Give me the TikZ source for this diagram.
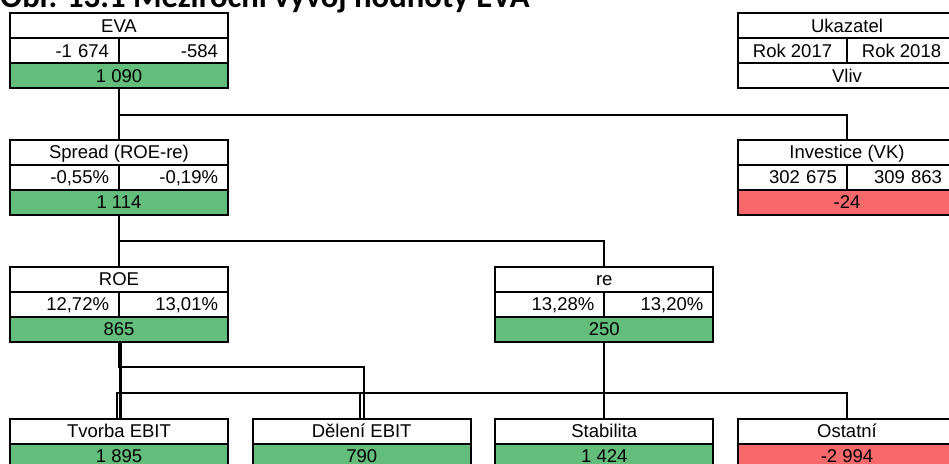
\documentclass[tikz,border=0pt]{standalone}
\usepackage{fontspec}
\setmainfont{Liberation Sans}
\newfontfamily\titlefont{Carlito}
\definecolor{posg}{HTML}{63BE7B}
\definecolor{negr}{HTML}{F8696B}
\begin{document}
\begin{tikzpicture}[x=1pt,y=-1pt,
  cell/.style={draw, line width=2.3pt, inner sep=0pt, outer sep=0pt, minimum height=25pt,
    font=\fontsize{18.5}{22}\selectfont, text height=13.3pt, text depth=0.6pt, anchor=north west},
  hdr/.style={cell, minimum width=218pt},
  numr/.style={cell, minimum width=109pt, text width=89pt, align=right},
  numc/.style={cell, minimum width=109pt},
  valg/.style={hdr, fill=posg},
  valr/.style={hdr, fill=negr},
  conn/.style={line width=2.3pt},
  titl/.style={anchor=base west, inner sep=0pt, font=\titlefont\bfseries\fontsize{32.7}{36}\selectfont}
]
\useasboundingbox (0,0) rectangle (949,463);
\clip (0,0) rectangle (949,463);

\node[titl] (title) at (0,7.5) {Obr. 13.1 Meziroční vývoj hodnoty EVA};

% EVA
\node[hdr] (eva-h) at (10,13.3) {EVA};
\node[numr] (eva-a) at (eva-h.south west) {-1 674};
\node[numr] (eva-b) at (eva-a.north east) {-584};
\node[valg] (eva-v) at (eva-a.south west) {1 090};

% Legend
\node[hdr] (uk-h) at (738,13.3) {Ukazatel};
\node[numc] (uk-a) at (uk-h.south west) {Rok 2017};
\node[numc] (uk-b) at (uk-a.north east) {Rok 2018};
\node[hdr] (uk-v) at (uk-a.south west) {Vliv};

% Spread
\node[hdr] (spr-h) at (10,140) {Spread (ROE-re)};
\node[numr] (spr-a) at (spr-h.south west) {-0,55\%};
\node[numr] (spr-b) at (spr-a.north east) {-0,19\%};
\node[valg] (spr-v) at (spr-a.south west) {1 114};

% Investice
\node[hdr] (inv-h) at (738,140) {Investice (VK)};
\node[numr] (inv-a) at (inv-h.south west) {302 675};
\node[numr, text width=81pt] (inv-b) at (inv-a.north east) {309 863};
\node[valr] (inv-v) at (inv-a.south west) {-24};

% ROE
\node[hdr] (roe-h) at (10,266.7) {ROE};
\node[numr] (roe-a) at (roe-h.south west) {12,72\%};
\node[numr] (roe-b) at (roe-a.north east) {13,01\%};
\node[valg] (roe-v) at (roe-a.south west) {865};

% re
\node[hdr] (re-h) at (495.3,266.7) {re};
\node[numr] (re-a) at (re-h.south west) {13,28\%};
\node[numr] (re-b) at (re-a.north east) {13,20\%};
\node[valg] (re-v) at (re-a.south west) {250};

% bottom row
\node[hdr] (tv-h) at (10,419) {Tvorba EBIT};
\node[valg] (tv-v) at (tv-h.south west) {1 895};
\node[hdr] (de-h) at (252.7,419) {Dělení EBIT};
\node[valg] (de-v) at (de-h.south west) {790};
\node[hdr] (st-h) at (495.3,419) {Stabilita};
\node[valg] (st-v) at (st-h.south west) {1 424};
\node[hdr] (os-h) at (738,419) {Ostatní};
\node[valr] (os-v) at (os-h.south west) {-2 994};

% connectors
\draw[conn] (eva-v.south) -- (spr-h.north);
\draw[conn] (eva-v.south) -- ++(0,26.7) -| (inv-h.north);
\draw[conn] (spr-v.south) -- (roe-h.north);
\draw[conn] (spr-v.south) -- ++(0,26) -| (re-h.north);
\draw[conn] ([xshift=1.5pt]roe-v.south) -- ([xshift=1.5pt]tv-h.north);
\draw[conn] (roe-v.south) -- ++(0,25) -| ([xshift=2pt]de-h.north);
\draw[conn] (re-v.south) -- ++(0,51) -| ([xshift=-2pt]tv-h.north);
\draw[conn] (re-v.south) -- ++(0,51) -| ([xshift=-2pt]de-h.north);
\draw[conn] (re-v.south) -- (st-h.north);
\draw[conn] (re-v.south) -- ++(0,51) -| (os-h.north);
\end{tikzpicture}
\end{document}
